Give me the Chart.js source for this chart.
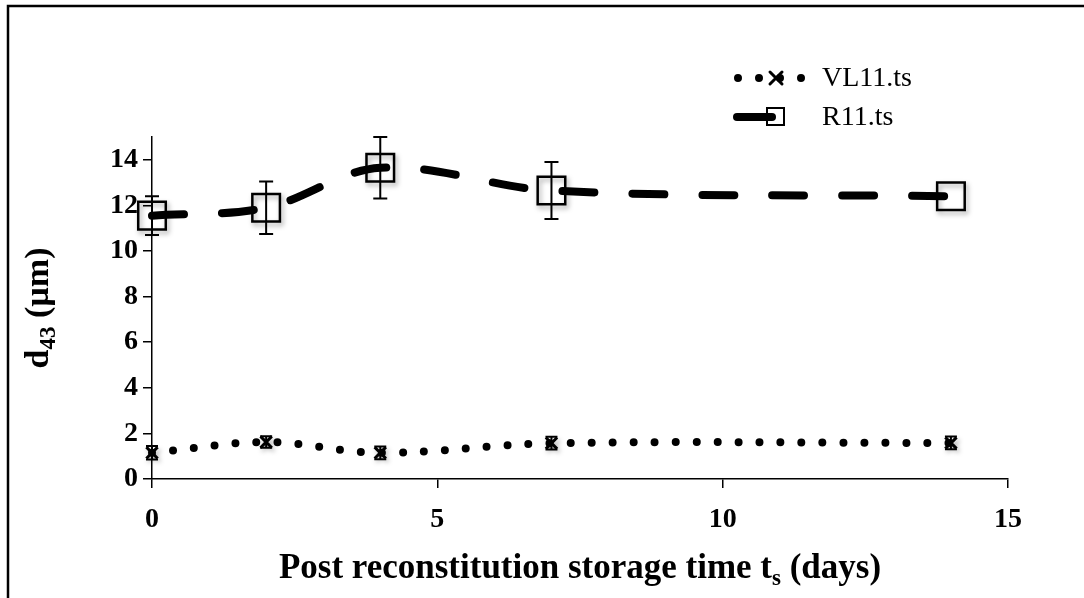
<!DOCTYPE html>
<html lang="en">
<head>
    <meta charset="UTF-8">
    <title>d43 vs storage time</title>
    <script src="https://cdn.jsdelivr.net/npm/chart.js"></script>
    <style>
        html, body {
            margin: 0;
            padding: 0;
            background: #ffffff;
            overflow: hidden;
        }
        #chart {
            display: block;
        }
    </style>
</head>
<body>
    <canvas id="chart" width="1084" height="598"></canvas>

    <script>
        // storage days and measured d43 values
        const days = [0, 2, 4, 7, 14];
        const r11 = [11.55, 11.9, 13.65, 12.65, 12.4];
        const r11Err = [0.85, 1.15, 1.35, 1.25, 0];
        const vl11 = [1.15, 1.62, 1.15, 1.57, 1.58];
        const vl11Err = [0.3, 0.25, 0.28, 0.28, 0.28];
        const xTicks = [0, 5, 10, 15];
        const yTicks = [0, 2, 4, 6, 8, 10, 12, 14];
        const seriesNames = ['VL11.ts', 'R11.ts'];

        const serif = '"Liberation Serif", "Times New Roman", serif';
        const pts = arr => days.map((d, i) => ({ x: d, y: arr[i] }));

        // error bars, drawn under the lines
        const errorBars = {
            id: 'errorBars',
            beforeDatasetsDraw(chart) {
                const { ctx, scales: { x, y } } = chart;
                ctx.save();
                ctx.strokeStyle = '#000';
                ctx.lineWidth = 2;
                const draw = (vals, errs, cap) => {
                    vals.forEach((v, i) => {
                        if (!errs[i]) return;
                        const px = x.getPixelForValue(days[i]);
                        const top = y.getPixelForValue(v + errs[i]);
                        const bot = y.getPixelForValue(v - errs[i]);
                        ctx.beginPath();
                        ctx.moveTo(px, top); ctx.lineTo(px, bot);
                        ctx.moveTo(px - cap, top); ctx.lineTo(px + cap, top);
                        ctx.moveTo(px - cap, bot); ctx.lineTo(px + cap, bot);
                        ctx.stroke();
                    });
                };
                draw(r11, r11Err, 7);
                draw(vl11, vl11Err, 6);
                ctx.restore();
            }
        };

        // soft drop shadow under the markers
        const markerShadow = {
            id: 'markerShadow',
            beforeDatasetDraw(chart, args) {
                if (!chart.data.datasets[args.index].isMarker) return;
                const ctx = chart.ctx;
                ctx.save();
                ctx.shadowColor = 'rgba(0,0,0,0.35)';
                ctx.shadowBlur = 5;
                ctx.shadowOffsetX = 2;
                ctx.shadowOffsetY = 3;
            },
            afterDatasetDraw(chart, args) {
                if (!chart.data.datasets[args.index].isMarker) return;
                chart.ctx.restore();
            }
        };

        // frame, axis titles with subscripts, legend
        const decorations = {
            id: 'decorations',
            afterDraw(chart) {
                const ctx = chart.ctx;
                ctx.save();

                // outer frame (top and left edges in view)
                ctx.strokeStyle = '#000';
                ctx.lineWidth = 2.5;
                ctx.beginPath();
                ctx.moveTo(8, 700); ctx.lineTo(8, 6); ctx.lineTo(1200, 6);
                ctx.stroke();

                ctx.fillStyle = '#000';

                // y title: d43 (µm)
                ctx.save();
                ctx.translate(36, 308);
                ctx.rotate(-Math.PI / 2);
                ctx.textBaseline = 'alphabetic';
                let big = 'bold 34px ' + serif, small = 'bold 23px ' + serif;
                ctx.font = big; const wD = ctx.measureText('d').width;
                ctx.font = small; const w43 = ctx.measureText('43').width;
                ctx.font = big; const wRest = ctx.measureText(' (µm)').width;
                let sx = -(wD + w43 + wRest) / 2;
                const base = 12;
                ctx.font = big; ctx.fillText('d', sx, base); sx += wD;
                ctx.font = small; ctx.fillText('43', sx, base + 7); sx += w43;
                ctx.font = big; ctx.fillText(' (µm)', sx, base);
                ctx.restore();

                // x title: Post reconstitution storage time ts (days)
                big = 'bold 35px ' + serif; small = 'bold 23px ' + serif;
                ctx.textBaseline = 'alphabetic';
                const a = 'Post reconstitution storage time t', b = 's', c = ' (days)';
                ctx.font = big; const wa = ctx.measureText(a).width, wc = ctx.measureText(c).width;
                ctx.font = small; const wb = ctx.measureText(b).width;
                let tx = 580 - (wa + wb + wc) / 2;
                const ty = 578;
                ctx.font = big; ctx.fillText(a, tx, ty); tx += wa;
                ctx.font = small; ctx.fillText(b, tx, ty + 7); tx += wb;
                ctx.font = big; ctx.fillText(c, tx, ty);

                // legend
                ctx.font = '28px ' + serif;
                ctx.textBaseline = 'middle';
                ctx.textAlign = 'left';

                // VL11.ts: dotted line with x marker
                ctx.strokeStyle = '#000';
                ctx.lineCap = 'round';
                ctx.lineWidth = 8;
                ctx.setLineDash([0, 21]);
                ctx.beginPath(); ctx.moveTo(738, 78); ctx.lineTo(802, 78); ctx.stroke();
                ctx.setLineDash([]);
                ctx.lineWidth = 3;
                ctx.beginPath();
                ctx.moveTo(770, 72); ctx.lineTo(782, 84);
                ctx.moveTo(782, 72); ctx.lineTo(770, 84);
                ctx.stroke();
                ctx.fillText(seriesNames[0], 822, 79);

                // R11.ts: thick line with square marker
                ctx.lineWidth = 2;
                ctx.strokeRect(767, 108, 17, 17);
                ctx.lineWidth = 8;
                ctx.beginPath(); ctx.moveTo(737, 117); ctx.lineTo(772, 117); ctx.stroke();
                ctx.fillText(seriesNames[1], 822, 118);

                ctx.restore();
            }
        };

        new Chart(document.getElementById('chart'), {
            type: 'scatter',
            data: {
                datasets: [
                    {
                        label: seriesNames[1],
                        data: pts(r11),
                        showLine: true,
                        borderColor: '#000',
                        borderWidth: 8,
                        borderDash: [32, 38],
                        borderCapStyle: 'round',
                        tension: 0.35,
                        pointRadius: 0,
                        clip: false,
                        order: 0
                    },
                    {
                        label: seriesNames[0],
                        data: pts(vl11),
                        showLine: true,
                        borderColor: '#000',
                        borderWidth: 8,
                        borderDash: [0, 21],
                        borderCapStyle: 'round',
                        tension: 0.35,
                        pointRadius: 0,
                        clip: false,
                        order: 0
                    },
                    {
                        label: 'R11 markers',
                        isMarker: true,
                        data: pts(r11),
                        pointStyle: 'rect',
                        pointRadius: 19.5,
                        pointBorderWidth: 2.5,
                        pointBorderColor: '#000',
                        pointBackgroundColor: 'rgba(255,255,255,0)',
                        clip: false,
                        order: 1
                    },
                    {
                        label: 'VL11 markers',
                        isMarker: true,
                        data: pts(vl11),
                        pointStyle: 'crossRot',
                        pointRadius: 8,
                        pointBorderWidth: 3,
                        pointBorderColor: '#000',
                        clip: false,
                        order: 1
                    }
                ]
            },
            options: {
                responsive: false,
                animation: false,
                devicePixelRatio: 1,
                layout: { padding: { top: 137, right: 76, left: 0, bottom: 0 } },
                plugins: {
                    legend: { display: false },
                    tooltip: { enabled: false }
                },
                scales: {
                    x: {
                        type: 'linear',
                        min: 0,
                        max: 15,
                        afterBuildTicks: s => { s.ticks = xTicks.map(v => ({ value: v })); },
                        afterFit: s => { s.height = 119; },
                        border: { color: '#000', width: 1.5 },
                        grid: { drawOnChartArea: false, tickLength: 9, color: '#000', lineWidth: 1.5 },
                        ticks: {
                            color: '#000',
                            padding: 15,
                            font: { family: serif, size: 28, weight: 'bold' }
                        }
                    },
                    y: {
                        type: 'linear',
                        min: 0,
                        max: 15,
                        afterBuildTicks: s => { s.ticks = yTicks.map(v => ({ value: v })); },
                        afterFit: s => { s.width = 152; },
                        border: { color: '#000', width: 1.5 },
                        grid: { drawOnChartArea: false, tickLength: 9, color: '#000', lineWidth: 1.5 },
                        ticks: {
                            color: '#000',
                            padding: 5,
                            font: { family: serif, size: 28, weight: 'bold' }
                        }
                    }
                }
            },
            plugins: [errorBars, markerShadow, decorations]
        });
    </script>
</body>
</html>
